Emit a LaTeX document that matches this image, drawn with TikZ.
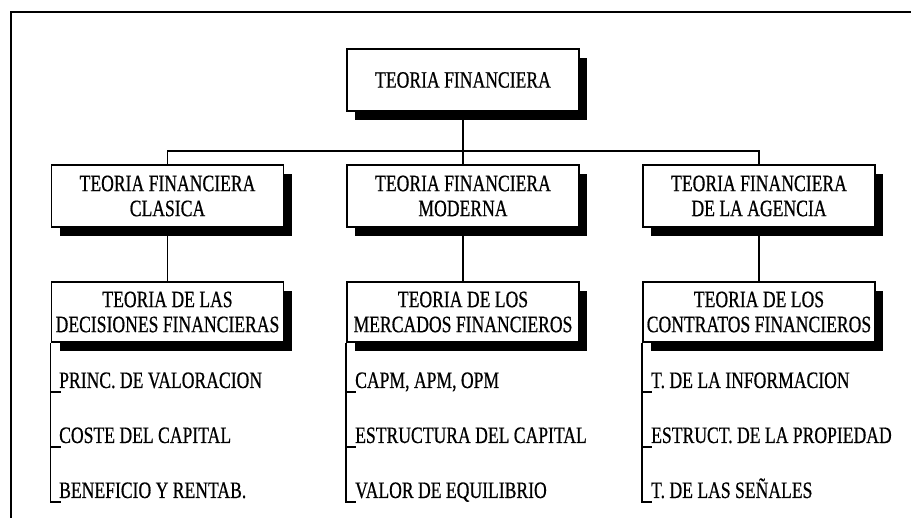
\documentclass[tikz,border=0pt]{standalone}
\usepackage{fontspec}
\setmainfont{Liberation Serif}[FakeStretch=0.75,FakeBold=0.6]
\usetikzlibrary{shadows}
\begin{document}
\begin{tikzpicture}[x=1pt,y=-1pt,
  box/.style={draw, fill=white, line width=1.6pt, rectangle, minimum width=232pt,
    minimum height=62pt, inner sep=0pt, align=center,
    font=\fontsize{23.5}{25}\selectfont,
    drop shadow={shadow xshift=8pt, shadow yshift=-9pt, fill=black, opacity=1}},
  boxlow/.style={box, minimum height=60pt},
  link/.style={line width=1.5pt},
  item/.style={anchor=base west, inner sep=0pt, font=\fontsize{23.5}{25}\selectfont}]
\useasboundingbox (0,0) rectangle (911,518);
% frame
\draw[line width=2pt] (911,12) -- (11,12) -- (11,518);
% nodes
\node[box] (top) at (463,80) {TEORIA FINANCIERA};
\node[box] (c1) at (167.5,196) {TEORIA FINANCIERA\\CLASICA};
\node[box] (c2) at (463,196) {TEORIA FINANCIERA\\MODERNA};
\node[box] (c3) at (759,196) {TEORIA FINANCIERA\\DE LA AGENCIA};
\node[boxlow] (d1) at (167.5,312) {TEORIA DE LAS\\DECISIONES FINANCIERAS};
\node[boxlow] (d2) at (463,312) {TEORIA DE LOS\\MERCADOS FINANCIEROS};
\node[boxlow] (d3) at (759,312) {TEORIA DE LOS\\CONTRATOS FINANCIEROS};
% connectors
\coordinate (bus) at (463,151);
\draw[link] (top.south) -- (c2.north);
\draw[link] (c1.north) |- (bus) -| (c3.north);
\draw[link] (c1.south) -- (d1.north);
\draw[link] (c2.south) -- (d2.north);
\draw[link] (c3.south) -- (d3.north);
% list items
\node[item] (i11) at (59,388) {PRINC. DE VALORACION};
\node[item] (i12) at (59,443) {COSTE DEL CAPITAL};
\node[item] (i13) at (59,498) {BENEFICIO Y RENTAB.};
\node[item] (i21) at (355,388) {CAPM, APM, OPM};
\node[item] (i22) at (355,443) {ESTRUCTURA DEL CAPITAL};
\node[item] (i23) at (355,498) {VALOR DE EQUILIBRIO};
\node[item] (i31) at (651,388) {T. DE LA INFORMACION};
\node[item] (i32) at (651,443) {ESTRUCT. DE LA PROPIEDAD};
\node[item] (i33) at (651,498) {T. DE LAS SEÑALES};
% list brackets
\foreach \d in {d1, d2, d3}{
  \draw[link] (\d.south west) -- (\d.south west |- {0,502}) -- ++(10,0);
  \draw[link] (\d.south west |- {0,392}) -- ++(10,0);
  \draw[link] (\d.south west |- {0,447}) -- ++(10,0);
}
\end{tikzpicture}
\end{document}
